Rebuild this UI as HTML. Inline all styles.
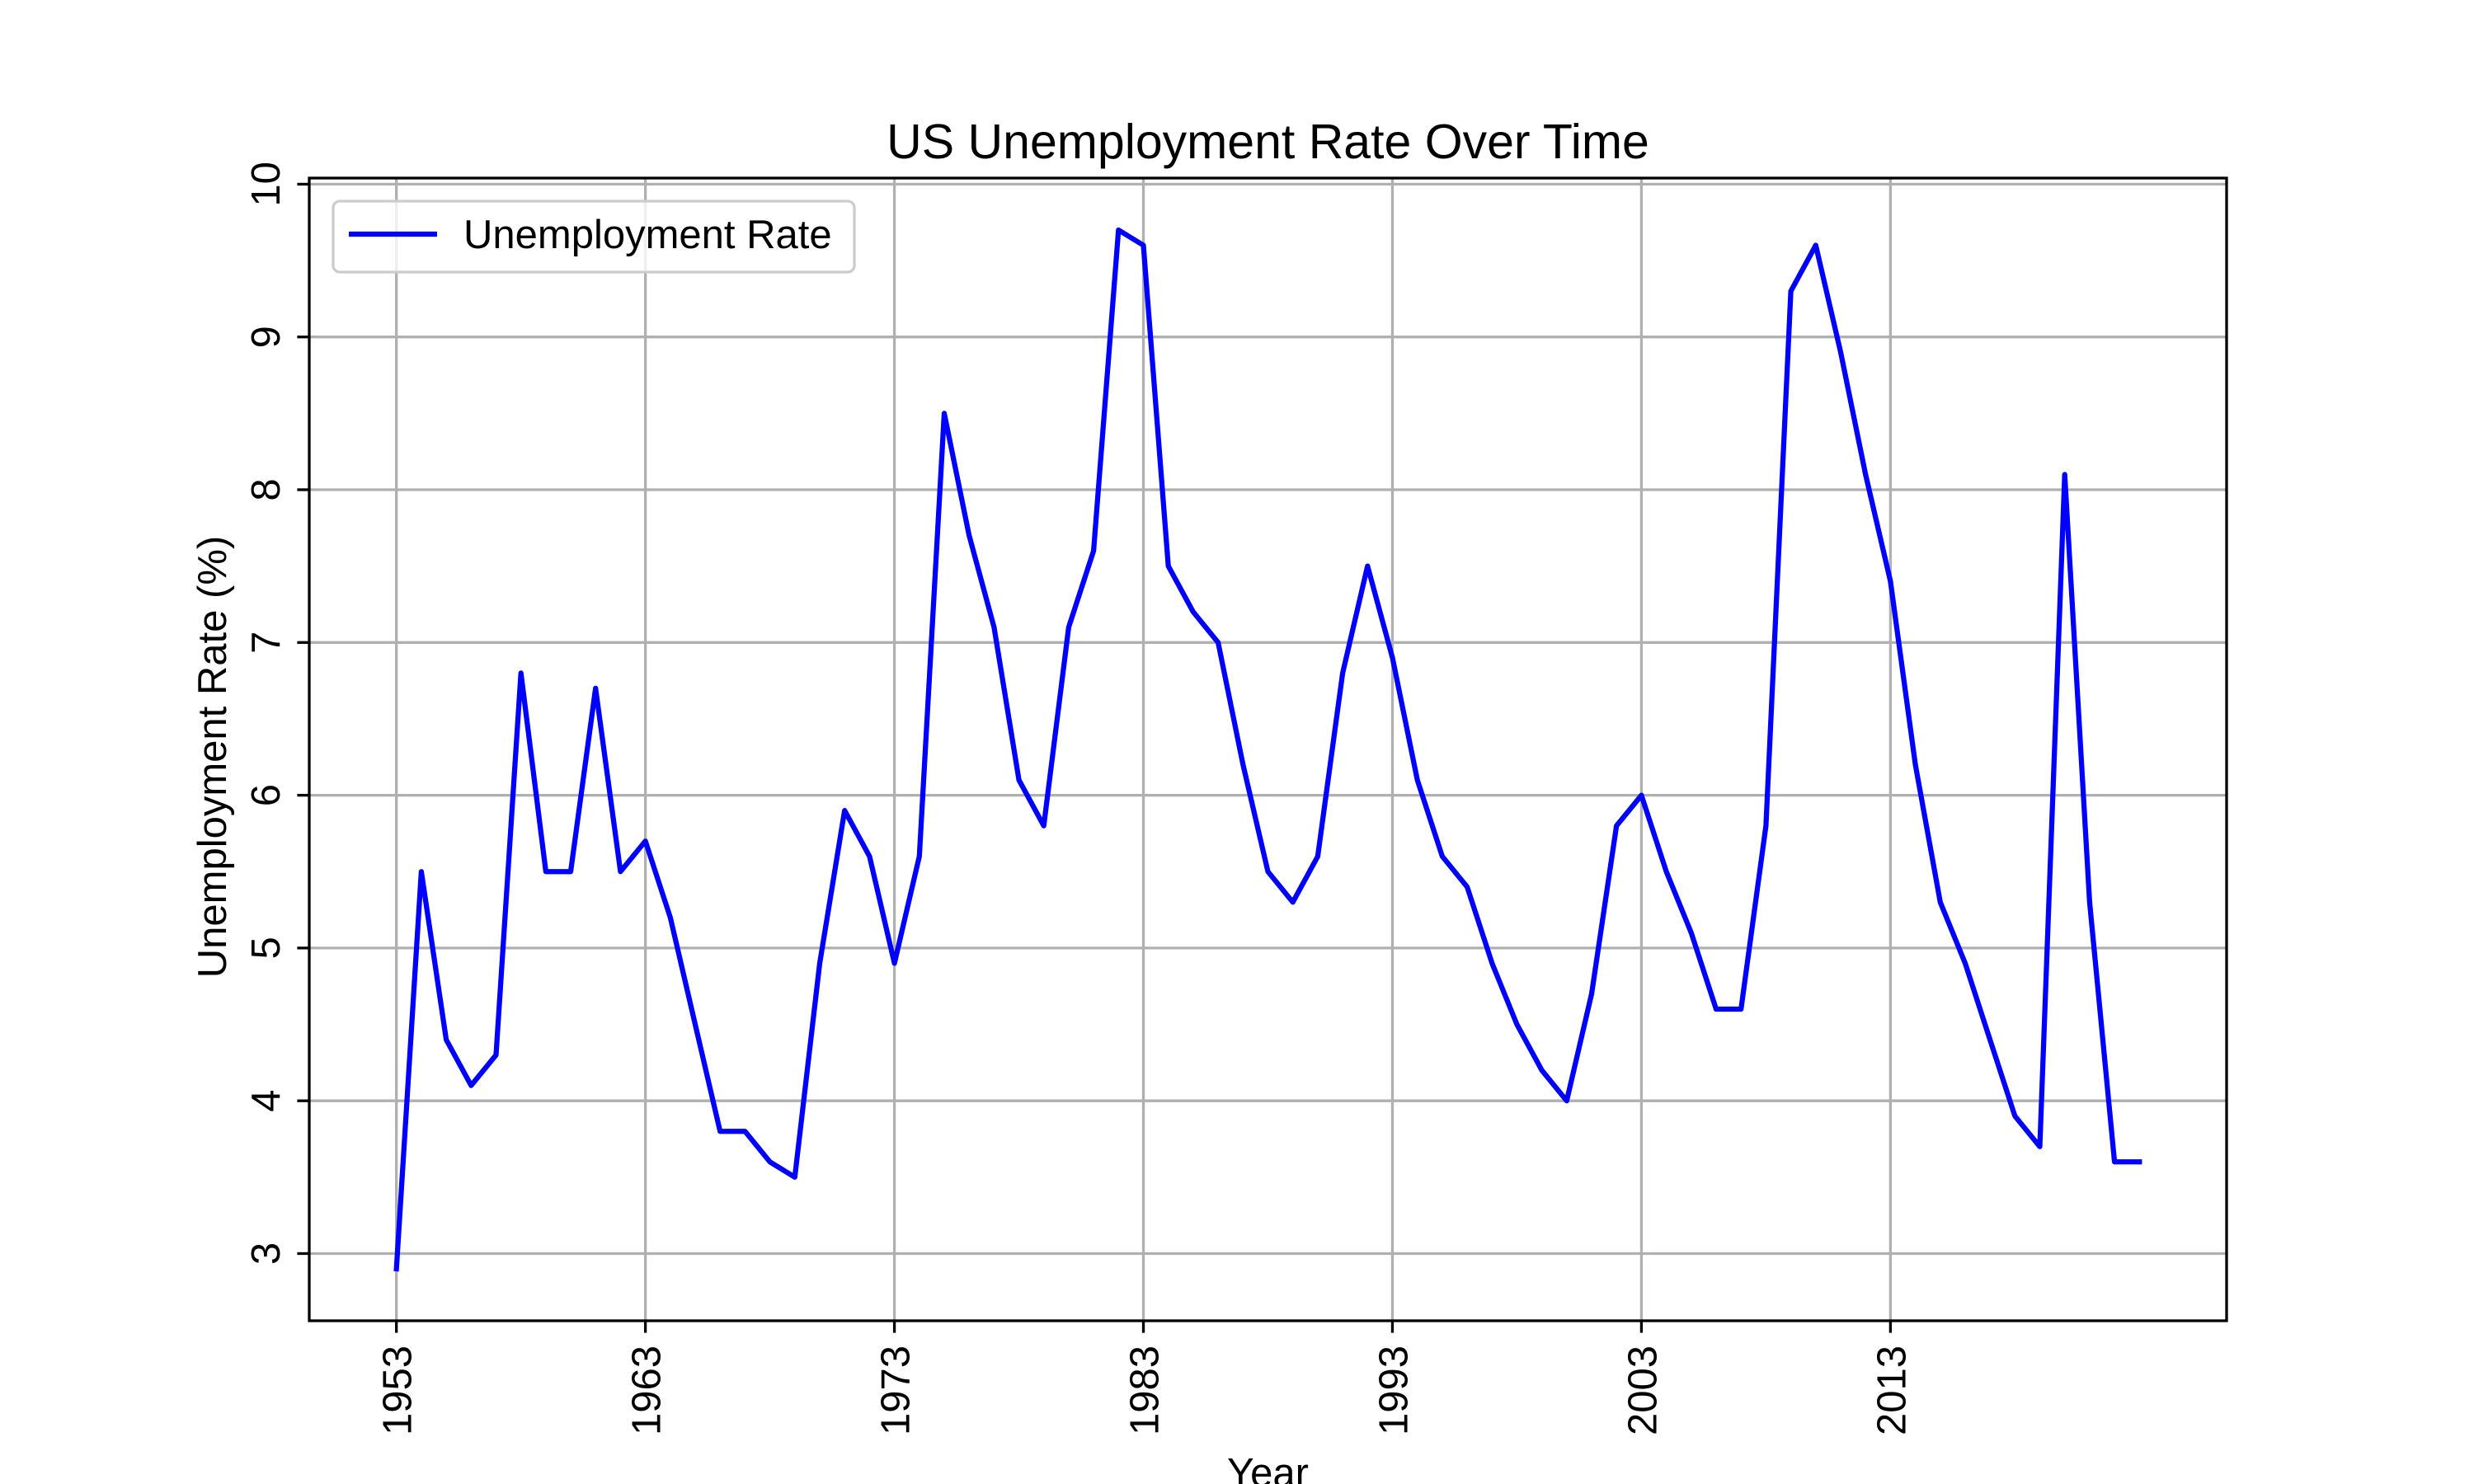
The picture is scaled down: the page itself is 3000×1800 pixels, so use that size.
<!DOCTYPE html>
<html><head><meta charset="utf-8"><style>
html,body{margin:0;padding:0;background:#fff}
svg{display:block;font-family:"Liberation Sans","DejaVu Sans",sans-serif}
</style></head><body>
<svg id="chart" width="3000" height="1800" viewBox="0 0 3000 1800" xmlns="http://www.w3.org/2000/svg">
<rect width="3000" height="1800" fill="#fff"/>
<g id="grid"></g>
<g id="series"></g>
<rect x="375" y="216" width="2325" height="1386" fill="none" stroke="#000" stroke-width="3.3"/>
<g id="ticks"></g>
<text x="1537.5" y="192" font-size="59" text-anchor="middle">US Unemployment Rate Over Time</text>
<text x="1537.5" y="1803" font-size="49" text-anchor="middle">Year</text>
<text transform="translate(274,918) rotate(-90)" font-size="49" text-anchor="middle">Unemployment Rate (%)</text>
<g>
<rect x="404" y="244" width="632" height="86" rx="8" fill="#fff" fill-opacity="0.8" stroke="#ccc" stroke-width="3.3"/>
<line x1="423" y1="284" x2="530" y2="284" stroke="#0000ff" stroke-width="6.25"/>
<text x="562" y="301" font-size="49">Unemployment Rate</text>
</g>
</svg>
<script>
const years = [];
for (let y = 1953; y <= 2023; y++) years.push(y);
const rates = [2.9,5.5,4.4,4.1,4.3,6.8,5.5,5.5,6.7,5.5,5.7,5.2,4.5,3.8,3.8,3.6,3.5,4.9,5.9,5.6,4.9,5.6,8.5,7.7,7.1,6.1,5.8,7.1,7.6,9.7,9.6,7.5,7.2,7.0,6.2,5.5,5.3,5.6,6.8,7.5,6.9,6.1,5.6,5.4,4.9,4.5,4.2,4.0,4.7,5.8,6.0,5.5,5.1,4.6,4.6,5.8,9.3,9.6,8.9,8.1,7.4,6.2,5.3,4.9,4.4,3.9,3.7,8.1,5.3,3.6,3.6];
const xTicks = [1953,1963,1973,1983,1993,2003,2013];
const yTicks = [3,4,5,6,7,8,9,10];

const L=375,R=2700,T=216,B=1602;
const xmin=1949.5,xmax=2026.5,ymin=2.56,ymax=10.04;
const sx=v=>L+(v-xmin)/(xmax-xmin)*(R-L);
const sy=v=>B-(v-ymin)/(ymax-ymin)*(B-T);
const NS='http://www.w3.org/2000/svg';
function mk(tag,attrs,parent){const e=document.createElementNS(NS,tag);for(const k in attrs)e.setAttribute(k,attrs[k]);parent.appendChild(e);return e;}
const grid=document.getElementById('grid'),ticks=document.getElementById('ticks'),series=document.getElementById('series');
xTicks.forEach(t=>{
  const x=sx(t);
  const g=mk('line',{x1:x,y1:T,x2:x,y2:B,stroke:'#b0b0b0','stroke-width':3.3},grid);
  
  
  const tk=mk('line',{x1:x,y1:B,x2:x,y2:B+14.6,stroke:'#000','stroke-width':3.3},ticks);
  
  
  const lb=mk('text',{transform:`translate(${x+18},1632) rotate(-90)`,'font-size':49,'text-anchor':'end'},ticks);
  lb.textContent=t;
  
  
});
yTicks.forEach(t=>{
  const y=sy(t);
  const g=mk('line',{x1:L,y1:y,x2:R,y2:y,stroke:'#b0b0b0','stroke-width':3.3},grid);
  
  
  const tk=mk('line',{x1:L-14.6,y1:y,x2:L,y2:y,stroke:'#000','stroke-width':3.3},ticks);
  
  
  const lb=mk('text',{transform:`translate(339,${y}) rotate(-90)`,'font-size':49,'text-anchor':'middle'},ticks);
  lb.textContent=t;
  
  
});
const pts=years.map((y,i)=>sx(y).toFixed(1)+','+sy(rates[i]).toFixed(1)).join(' ');
const line=mk('polyline',{points:pts,fill:'none',stroke:'#0000ff','stroke-width':6.25,'stroke-linejoin':'round','stroke-linecap':'square'},series);


</script>
</body></html>
